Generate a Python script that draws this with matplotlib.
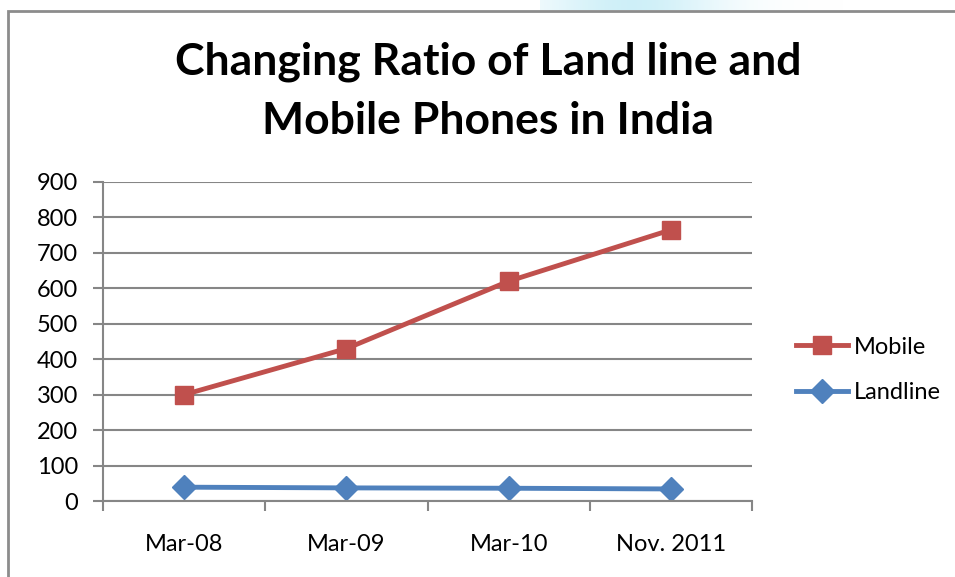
import matplotlib
matplotlib.use("Agg")
import matplotlib.pyplot as plt
from matplotlib.patches import Rectangle
import numpy as np

categories = ["Mar-08", "Mar-09", "Mar-10", "Nov. 2011"]
mobile = [300, 430, 620, 765]
landline = [39, 37, 36, 34]
y_ticks = [0, 100, 200, 300, 400, 500, 600, 700, 800, 900]

RED = "#C0504D"
BLUE = "#4F81BD"
GRID = "#868686"
FONT = ["Lato", "DejaVu Sans"]

W, H = 955, 577
fig = plt.figure(figsize=(W / 100, H / 100), dpi=100)

# faint blue glow at top
glow = fig.add_axes([540 / W, 1 - 10 / H, 415 / W, 10 / H])
g = np.linspace(0, 1, 200)
alpha = np.exp(-((g - 0.22) / 0.22) ** 2)
img = np.ones((1, 200, 4))
img[..., 0] = 0.78
img[..., 1] = 0.93
img[..., 2] = 0.97
img[..., 3] = alpha * 0.85
glow.imshow(img, aspect="auto", extent=[0, 1, 0, 1])
glow.axis("off")

# chart border
fig.patches.append(Rectangle((8 / W, -0.1), 1.2, 1.1 - 11 / H,
                             transform=fig.transFigure, fill=False,
                             edgecolor="#8c8c8c", linewidth=2))

ax = fig.add_axes([103 / W, 1 - 501 / H, (752 - 103) / W, (501 - 182) / H])
x = np.arange(len(categories))
ax.plot(x, mobile, color=RED, lw=3.5, marker="s", markersize=13.5, label="Mobile")
ax.plot(x, landline, color=BLUE, lw=3.5, marker="D", markersize=12, label="Landline")

ax.set_xlim(-0.5, len(categories) - 0.5)
ax.set_ylim(0, 900)
ax.set_yticks(y_ticks)
ax.set_yticklabels([str(v) for v in y_ticks], fontsize=17, family=FONT)
ax.set_xticks(np.arange(-0.5, len(categories), 1.0))
ax.set_xticklabels([])
ax.set_xticks(x, minor=True)
ax.set_xticklabels(categories, minor=True, fontsize=17, family=FONT)
ax.tick_params(axis="x", which="minor", length=0, pad=24)
ax.tick_params(axis="x", which="major", length=7, width=1.5, color=GRID, direction="out")
ax.tick_params(axis="y", length=7, width=1.5, color=GRID, direction="out", pad=11)
ax.grid(axis="y", color=GRID, lw=1.5)
ax.set_axisbelow(True)
for s in ["top", "right"]:
    ax.spines[s].set_visible(False)
ax.spines["left"].set_color(GRID)
ax.spines["left"].set_linewidth(1.5)
ax.spines["bottom"].set_color(GRID)
ax.spines["bottom"].set_linewidth(1.5)

fig.text(488 / W, 1 - 62 / H, "Changing Ratio of Land line and",
         ha="center", va="center", fontsize=32, fontweight="bold", family=FONT)
fig.text(488 / W, 1 - 121 / H, "Mobile Phones in India",
         ha="center", va="center", fontsize=32, fontweight="bold", family=FONT)

leg = fig.legend(handles=ax.get_lines(), loc="center left",
                 bbox_to_anchor=(775 / W, 1 - 370 / H), frameon=False,
                 prop={"family": FONT, "size": 17},
                 handlelength=2.2, handletextpad=0.25, labelspacing=1.05)

fig.savefig("out.png", dpi=100)
